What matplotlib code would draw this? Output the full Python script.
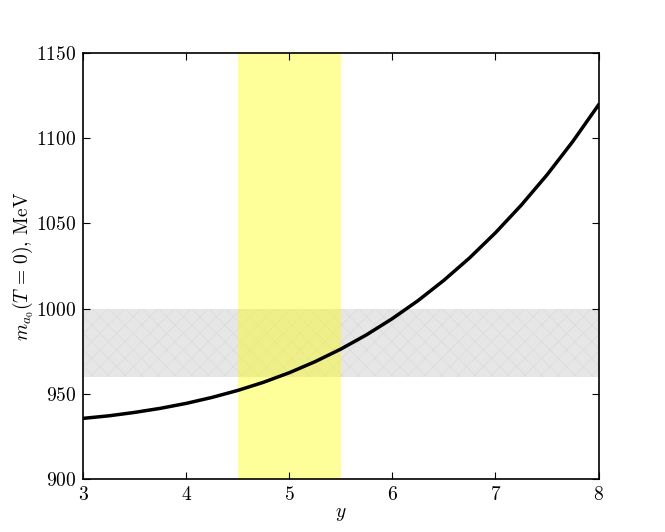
import numpy as np
import matplotlib
matplotlib.use('Agg')
import matplotlib.pyplot as plt

# curve
y_param = [3.00, 3.25, 3.50, 3.75, 4.00, 4.25, 4.50, 4.75, 5.00, 5.25, 5.50,
           5.75, 6.00, 6.25, 6.50, 6.75, 7.00, 7.25, 7.50, 7.75, 8.00]
mass = [935.5, 937.0, 939.0, 941.4, 944.3, 947.8, 951.9, 956.7, 962.3, 968.8, 976.2,
        984.6, 994.1, 1004.7, 1016.6, 1029.8, 1044.5, 1060.7, 1078.5, 1098.1, 1119.6]

# bands
y_band = [4.5, 5.5]
mass_band = [960, 1000]

plt.rcParams['font.family'] = 'serif'
plt.rcParams['font.serif'] = ['cmr10']
plt.rcParams['mathtext.fontset'] = 'cm'
plt.rcParams['axes.formatter.use_mathtext'] = True
plt.rcParams['font.size'] = 14
plt.rcParams['hatch.color'] = '0.86'
plt.rcParams['hatch.linewidth'] = 0.5

fig = plt.figure(figsize=(6.65, 5.32), dpi=100)
ax = fig.add_axes([0.125, 0.1, 0.775, 0.8])

ax.axhspan(mass_band[0], mass_band[1], facecolor='0.9', edgecolor='0.86',
           hatch='xx', linewidth=0)
ax.axvspan(y_band[0], y_band[1], facecolor='yellow', alpha=0.4, linewidth=0)
ax.plot(y_param, mass, color='black', lw=2.5)

ax.set_xlim(3, 8)
ax.set_ylim(900, 1150)
ax.set_xticks([3, 4, 5, 6, 7, 8])
ax.set_yticks([900, 950, 1000, 1050, 1100, 1150])
ax.tick_params(direction='in', top=True, right=True, length=5, width=0.8, pad=5)
for s in ax.spines.values():
    s.set_linewidth(1.2)

ax.set_xlabel(r'$y$', labelpad=1)
ax.set_ylabel(r'$m_{a_0}(T\,=\,0)$, MeV', labelpad=0)

fig.savefig('out.png', dpi=100, facecolor='white')
